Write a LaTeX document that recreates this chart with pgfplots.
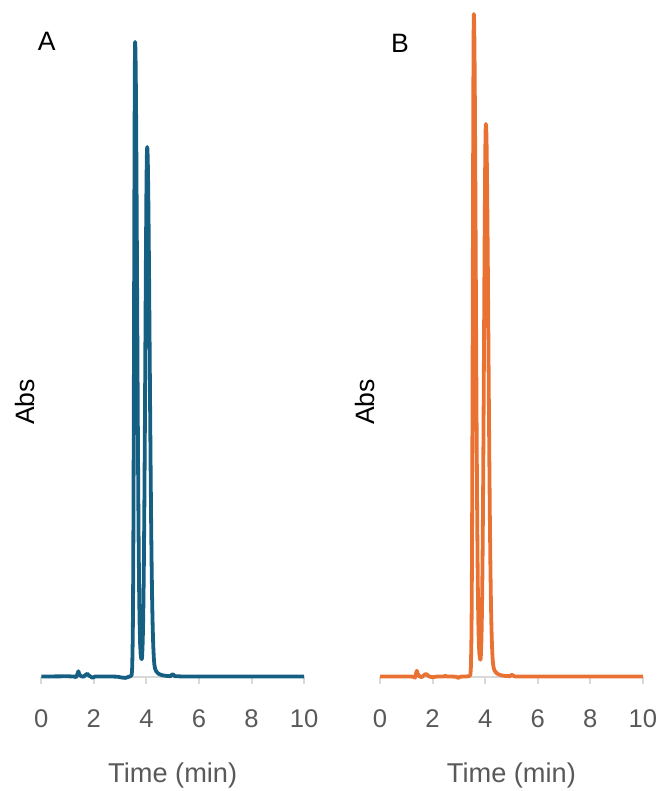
\documentclass[border=0pt]{standalone}
\usepackage{fontspec}
\setmainfont{Liberation Sans}
\usepackage{pgfplots}
\pgfplotsset{compat=1.18}
\definecolor{cA}{HTML}{156082}
\definecolor{cB}{HTML}{E97132}
\definecolor{axgray}{HTML}{D9D9D9}
\definecolor{txtgray}{HTML}{595959}
\pgfplotsset{chrom/.style={
  scale only axis, width=131.4pt, height=335pt,
  xmin=0, xmax=10, ymin=0, ymax=670,
  axis x line=bottom, axis y line=left,
  x axis line style={draw=axgray, line width=1pt, -},
  y axis line style={draw=none},
  ytick=\empty,
  xtick={0,2,...,10},
  tick align=outside, major tick length=3.5pt,
  x tick style={draw=axgray, line width=1pt},
  /pgf/number format/assume math mode=true,
  xticklabel style={font=\fontsize{12.8}{14}\selectfont, text=txtgray, anchor=center, yshift=-17.4pt},
  xlabel={Time (min)},
  xlabel style={font=\fontsize{13.6}{16}\selectfont, text=txtgray, at={(axis description cs:0.5,0)}, anchor=center, yshift=-49.5pt},
  ylabel={Abs},
  ylabel style={font=\fontsize{13.3}{16}\selectfont, text=black, anchor=center},
  clip=false,
}}
\begin{document}
\begin{tikzpicture}
\path[use as bounding box] (0,0) rectangle (329pt,395.5pt);
\begin{axis}[chrom, at={(20.65pt,57.15pt)}, anchor=south west,
  ylabel style={at={(axis description cs:-0.062,0.41)}}]
\addplot[cA, line width=1.9pt, line join=round] coordinates {
(0,0.3) (0.5,0.3) (1.0,0.4) (1.25,0.2) (1.32,-0.6) (1.38,3) (1.41,5.5) (1.45,2) (1.52,0.5) (1.6,0) (1.7,2) (1.75,3) (1.8,1.5) (1.88,0) (1.95,-1) (2.05,0.2) (2.5,0.3) (2.9,0) (3.05,-0.8) (3.2,-1.2) (3.3,-0.3) (3.40,0.5) (3.44,2) (3.46,9.6) (3.48,38.5) (3.49,69) (3.50,116) (3.51,183) (3.52,267) (3.53,365) (3.54,465) (3.55,553) (3.56,613) (3.57,634.7) (3.58,629) (3.59,613) (3.60,587) (3.61,553) (3.62,511) (3.63,465) (3.64,415) (3.65,365) (3.66,315) (3.67,267) (3.68,223) (3.69,183) (3.70,147) (3.72,91) (3.74,54) (3.76,33) (3.78,23) (3.80,18.5) (3.82,17.5) (3.83,18.5) (3.84,22) (3.86,36) (3.88,62) (3.90,104) (3.92,165) (3.94,243) (3.96,330) (3.98,416) (4.00,486) (4.01,510) (4.02,525) (4.03,529.7) (4.04,527) (4.05,518) (4.06,504) (4.08,461) (4.10,404) (4.12,338) (4.14,271) (4.16,208) (4.18,153) (4.20,108) (4.22,73) (4.24,48) (4.26,31) (4.28,19.5) (4.30,12.5) (4.33,8) (4.36,6) (4.40,4.5) (4.45,3.2) (4.5,2.4) (4.6,1.5) (4.7,1) (4.8,0.7) (4.92,0.5) (4.97,2) (5.02,2.3) (5.08,0.5) (5.3,0.3) (6,0.2) (7,0.2) (8,0.2) (9,0.2) (10,0.2)
};
\node[font=\fontsize{13.3}{16}\selectfont, anchor=center] at (axis description cs:0.0205,0.949) {A};
\end{axis}
\begin{axis}[chrom, at={(190pt,57.15pt)}, anchor=south west,
  ylabel style={at={(axis description cs:-0.057,0.41)}}]
\addplot[cB, line width=1.9pt, line join=round] coordinates {
(0,0.3) (1.0,0.3) (1.28,0) (1.33,-1) (1.37,3) (1.40,6) (1.44,2.5) (1.5,0.5) (1.58,-0.5) (1.65,1) (1.72,2.5) (1.77,2.5) (1.83,1) (1.9,0) (2.0,-0.5) (2.2,0.3) (2.45,0.3) (2.48,1.2) (2.52,0.3) (2.9,0) (2.97,-1.2) (3.05,0) (3.3,0.3) (3.40,0.6) (3.44,2.1) (3.46,10) (3.48,40.2) (3.49,72) (3.50,121) (3.51,191) (3.52,279) (3.53,381) (3.54,485) (3.55,577) (3.56,640) (3.57,662.7) (3.58,657) (3.59,640) (3.60,613) (3.61,577) (3.62,533) (3.63,485) (3.64,433) (3.65,381) (3.66,329) (3.67,279) (3.68,233) (3.69,191) (3.70,153) (3.72,95) (3.74,56) (3.76,34) (3.78,23.5) (3.80,18.5) (3.82,17) (3.83,18) (3.84,22) (3.86,37) (3.88,65) (3.90,109) (3.92,172) (3.94,254) (3.96,345) (3.98,434) (4.00,507) (4.01,532) (4.02,548) (4.03,552.7) (4.04,550) (4.05,541) (4.06,526) (4.08,481) (4.10,422) (4.12,353) (4.14,283) (4.16,217) (4.18,160) (4.20,113) (4.22,76) (4.24,50) (4.26,32) (4.28,20) (4.30,13) (4.33,8.3) (4.36,6.2) (4.40,4.7) (4.45,3.3) (4.5,2.5) (4.6,1.5) (4.7,1) (4.8,0.7) (4.95,0.5) (5.0,1.8) (5.05,1.5) (5.12,0.3) (5.5,0.2) (6,0.2) (7,0.2) (8,0.2) (9,0.2) (10,0.2)
};
\node[font=\fontsize{13.3}{16}\selectfont, anchor=center] at (axis description cs:0.076,0.946) {B};
\end{axis}
\end{tikzpicture}
\end{document}
